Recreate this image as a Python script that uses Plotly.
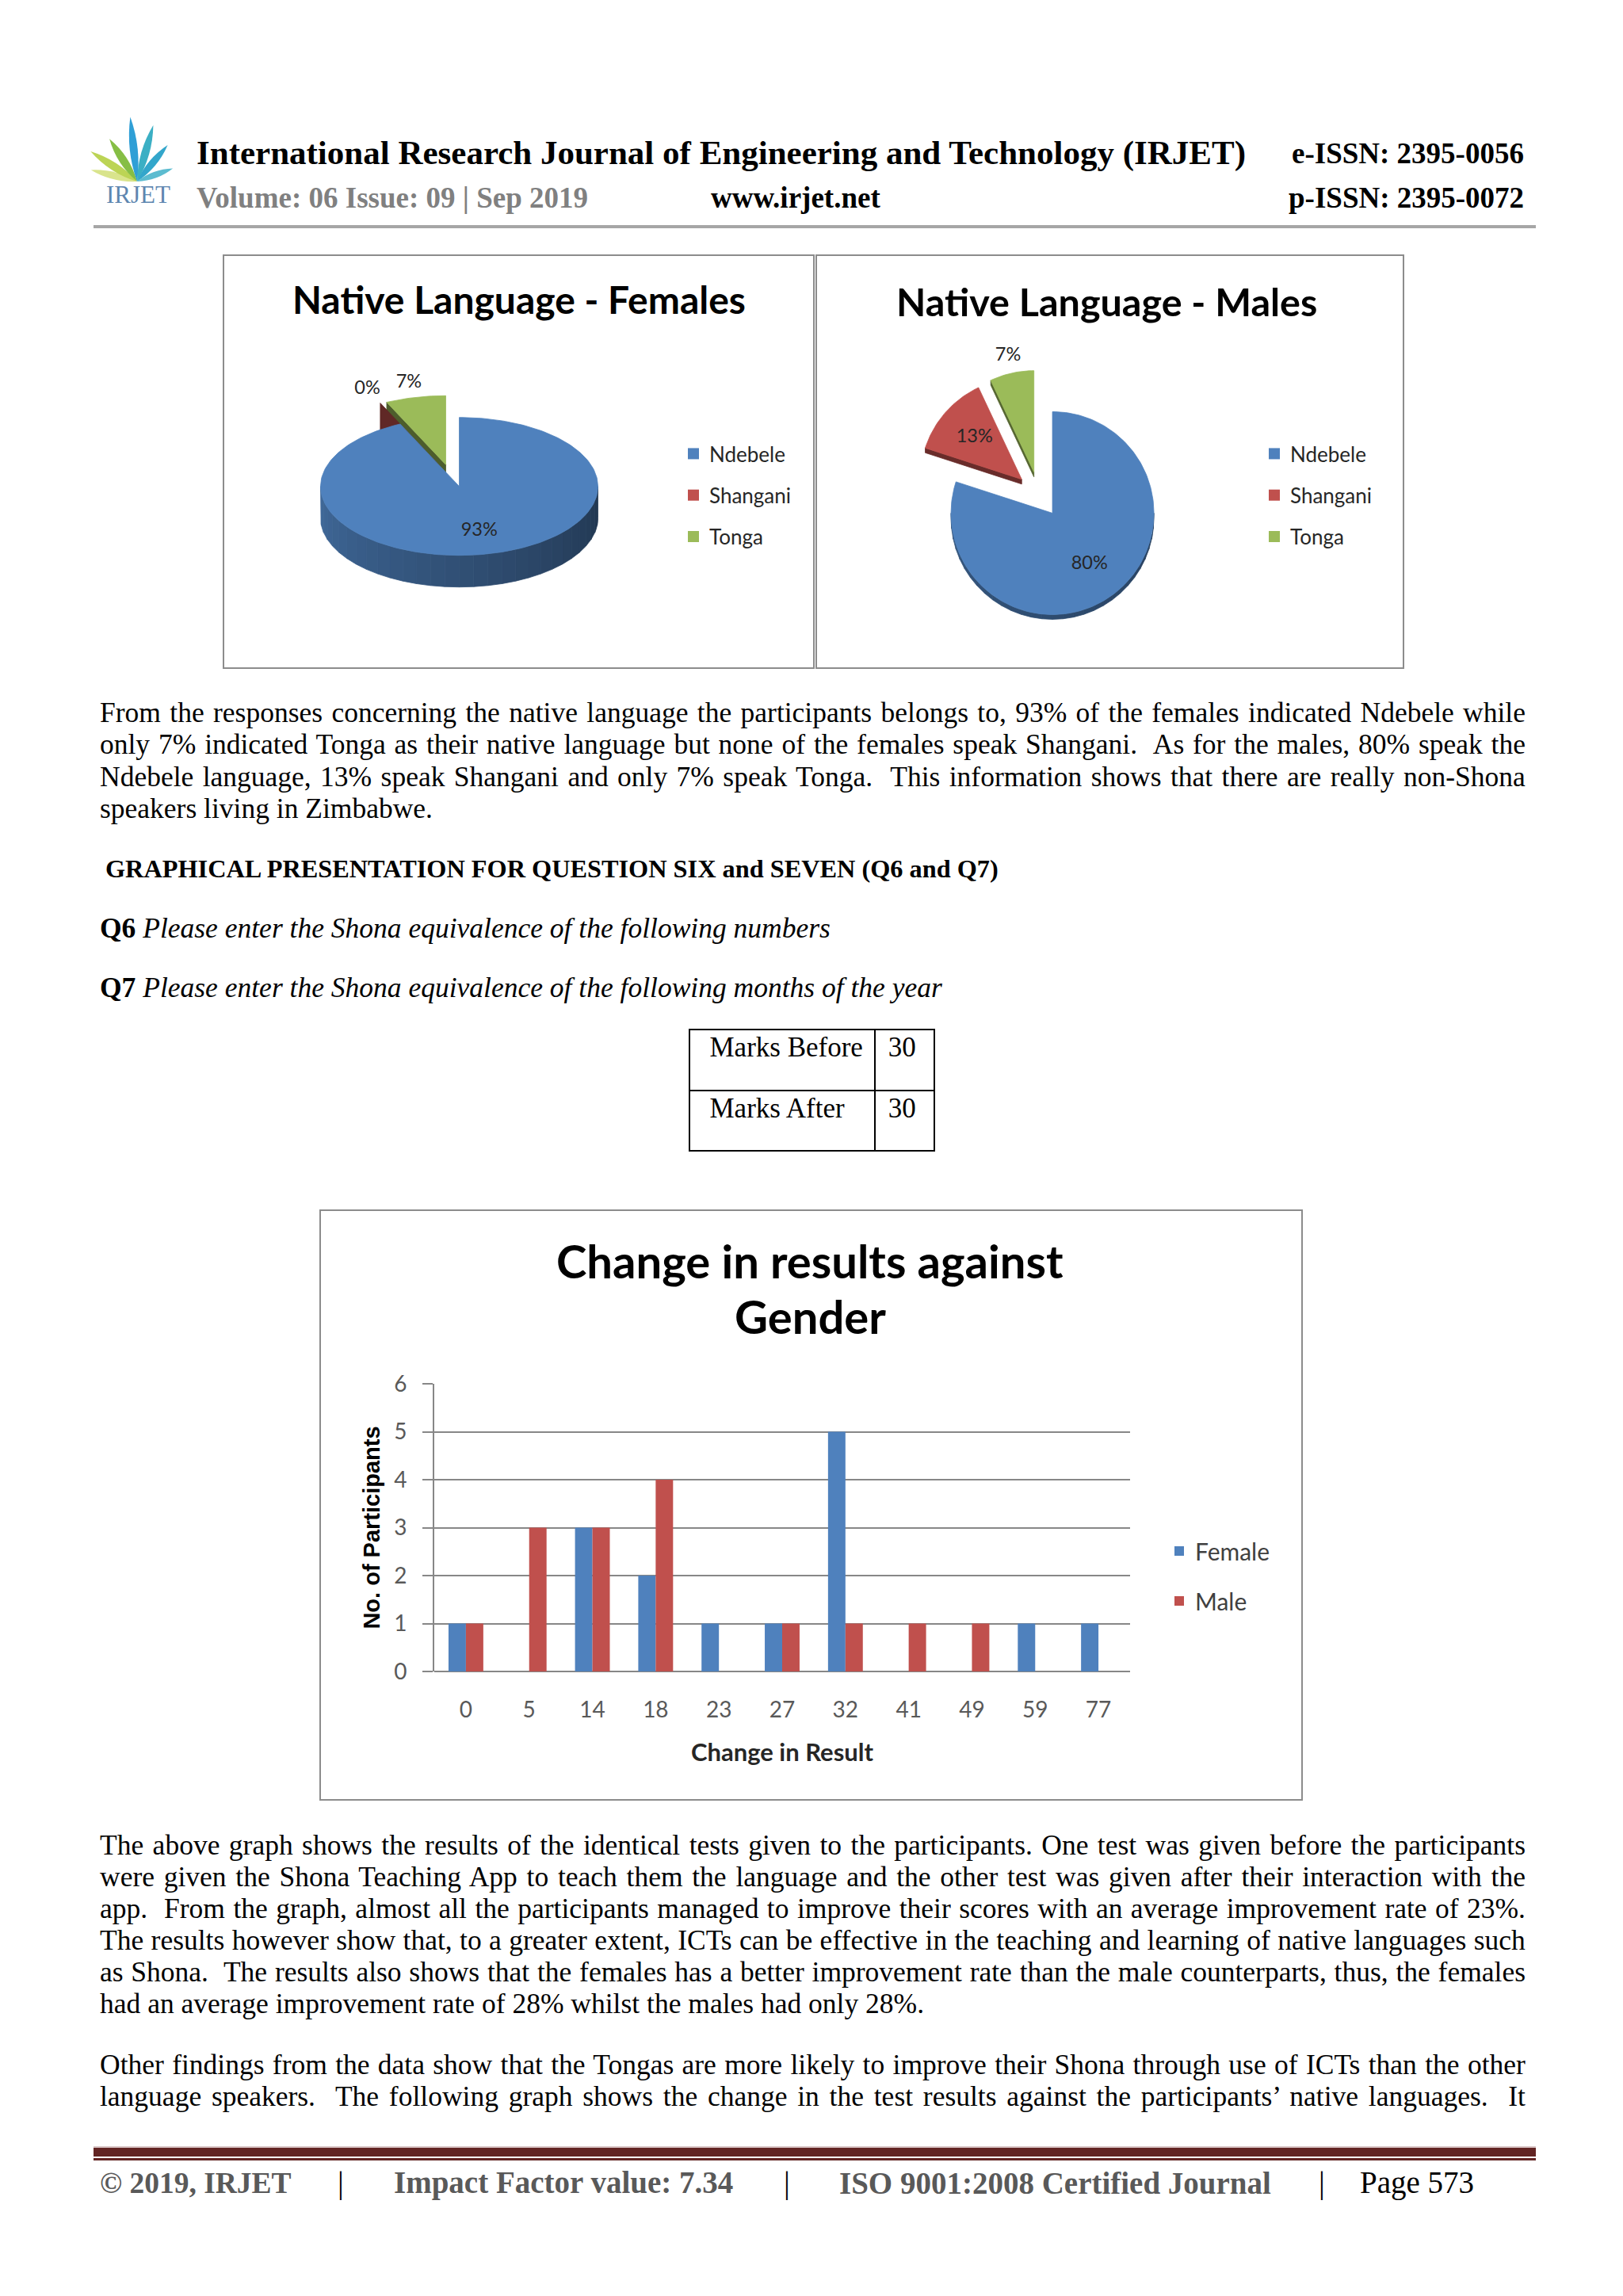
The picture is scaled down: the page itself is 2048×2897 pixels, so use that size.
import json
import math
import plotly.graph_objects as go

W, H = 2048, 2897

# ---------------- data ----------------
pie_labels = ["Ndebele", "Shangani", "Tonga"]
female_share = [93, 0, 7]
male_share = [80, 13, 7]

result_change = ["0", "5", "14", "18", "23", "27", "32", "41", "49", "59", "77"]
female_participants = [1, 0, 3, 2, 1, 1, 5, 0, 0, 1, 1]
male_participants = [1, 3, 3, 4, 0, 1, 1, 1, 1, 0, 0]

table_rows = ["Marks Before", "Marks After"]
table_marks = [30, 30]

para1_lines = [
    "From the responses concerning the native language the participants belongs to, 93% of the females indicated Ndebele while",
    "only 7% indicated Tonga as their native language but none of the females speak Shangani.  As for the males, 80% speak the",
    "Ndebele language, 13% speak Shangani and only 7% speak Tonga.  This information shows that there are really non-Shona",
    "speakers living in Zimbabwe.",
]
para2_lines = [
    "The above graph shows the results of the identical tests given to the participants. One test was given before the participants",
    "were given the Shona Teaching App to teach them the language and the other test was given after their interaction with the",
    "app.  From the graph, almost all the participants managed to improve their scores with an average improvement rate of 23%.",
    "The results however show that, to a greater extent, ICTs can be effective in the teaching and learning of native languages such",
    "as Shona.  The results also shows that the females has a better improvement rate than the male counterparts, thus, the females",
    "had an average improvement rate of 28% whilst the males had only 28%.",
]
para3_lines = [
    "Other findings from the data show that the Tongas are more likely to improve their Shona through use of ICTs than the other",
    "language speakers.  The following graph shows the change in the test results against the participants\u2019 native languages.  It",
]

# ---------------- style ----------------
PIE_COLORS = ["#4F81BD", "#C0504D", "#9BBB59"]
FEMALE_COL = "#4F81BD"
MALE_COL = "#C0504D"
GRID = "#878787"
SERIF = "Liberation Serif"
SANS = "Lato"
BODY = 35.5


def shade(c, f):
    r, g, b = int(c[1:3], 16), int(c[3:5], 16), int(c[5:7], 16)
    return "rgb(%d,%d,%d)" % (min(255, r * f), min(255, g * f), min(255, b * f))


def arc(ox, oy, a, b, t0, t1, dy=0.0, step=1.5):
    n = max(2, int(abs(t1 - t0) / step) + 1)
    pts = []
    for i in range(n + 1):
        t = math.radians(t0 + (t1 - t0) * i / n)
        pts.append((ox + a * math.sin(t), oy - b * math.cos(t) + dy))
    return pts


def poly(pts, color):
    xs = [p[0] for p in pts] + [pts[0][0]]
    ys = [p[1] for p in pts] + [pts[0][1]]
    return go.Scatter(x=xs, y=ys, mode="lines", fill="toself", fillcolor=color,
                      line=dict(color=color, width=0.8), hoverinfo="skip",
                      showlegend=False, xaxis="x", yaxis="y")


def pie_traces(values, colors, cx, cy, a, b, depth, pull, pull_q,
               band=(0.45, 0.8), wall_f=0.5, lab_in=0.62, lab_out=1.22, font=None):
    total = float(sum(values))
    slices = []
    start = 0.0
    for v, col in zip(values, colors):
        sweep = 360.0 * v / total
        mid = start + sweep / 2
        m = math.radians(mid)
        slices.append(dict(v=v, col=col, t0=start, t1=start + sweep, mid=mid,
                           ox=cx + pull * math.sin(m), oy=cy - pull * pull_q * math.cos(m)))
        start += sweep
    out = []
    for s in sorted(slices, key=lambda s: s["oy"]):
        ox, oy, t0, t1, col = s["ox"], s["oy"], s["t0"], s["t1"], s["col"]
        if depth > 0:
            for t, vis in ((t0, math.sin(math.radians(t0)) < -1e-6),
                           (t1, math.sin(math.radians(t1)) > 1e-6)):
                if vis:
                    e = (ox + a * math.sin(math.radians(t)), oy - b * math.cos(math.radians(t)))
                    out.append(poly([(ox, oy), e, (e[0], e[1] + depth), (ox, oy + depth)],
                                    shade(col, wall_f)))
            lo, hi = max(t0, 90.0), min(t1, 270.0)
            if hi > lo:
                nseg = max(1, int((hi - lo) / 6))
                for k in range(nseg):
                    a0 = lo + (hi - lo) * k / nseg
                    a1 = lo + (hi - lo) * (k + 1) / nseg
                    f = band[0] + (band[1] - band[0]) * ((a0 + a1) / 2 - 90) / 180
                    out.append(poly(arc(ox, oy, a, b, a0, a1) + arc(ox, oy, a, b, a1, a0, dy=depth),
                                    shade(col, f)))
        if t1 > t0:
            out.append(poly([(ox, oy)] + arc(ox, oy, a, b, t0, t1), col))
    lx, ly, lt = [], [], []
    for s in slices:
        r = lab_in if s["v"] / total >= 0.1 else lab_out
        m = math.radians(s["mid"])
        lx.append(s["ox"] + r * a * math.sin(m))
        ly.append(s["oy"] - r * b * math.cos(m))
        lt.append("%d%%" % s["v"])
    out.append(go.Scatter(x=lx, y=ly, text=lt, mode="text", textfont=font,
                          hoverinfo="skip", showlegend=False, xaxis="x", yaxis="y"))
    return out


fig = go.Figure()

# ---- pies (page axis in pixel units) ----
lab_font = dict(family=SANS, size=23.5, color="#262626")
for t in pie_traces(female_share, PIE_COLORS, 571, 600, 175, 87, 40, 39, 0.36,
                    band=(0.42, 0.82), wall_f=0.5, lab_in=0.66, font=lab_font):
    fig.add_trace(t)
for t in pie_traces(male_share, PIE_COLORS, 1311, 624, 128, 128, 6, 29, 1.0,
                    band=(0.5, 0.68), wall_f=0.55, lab_out=1.17, font=lab_font):
    fig.add_trace(t)

for i, (lab, col) in enumerate(zip(pie_labels, PIE_COLORS)):
    fig.add_trace(go.Scatter(x=[None], y=[None], mode="markers", name=lab,
                             marker=dict(symbol="square", size=14, color=col),
                             legend="legend2", legendgroup="f%d" % i, xaxis="x", yaxis="y"))
    fig.add_trace(go.Scatter(x=[None], y=[None], mode="markers", name=lab,
                             marker=dict(symbol="square", size=14, color=col),
                             legend="legend3", legendgroup="m%d" % i, xaxis="x", yaxis="y"))

# ---- bar chart ----
fig.add_trace(go.Bar(x=result_change, y=female_participants, name="Female",
                     marker=dict(color=FEMALE_COL, line=dict(width=0)),
                     xaxis="x2", yaxis="y2", legendgroup="gf", legend="legend"))
fig.add_trace(go.Bar(x=result_change, y=male_participants, name="Male",
                     marker=dict(color=MALE_COL, line=dict(width=0)),
                     xaxis="x2", yaxis="y2", legendgroup="gm", legend="legend"))

# ---- table ----
fig.add_trace(go.Table(
    domain=dict(x=[870 / W, 1179 / W], y=[1 - 1459 / H, 1 - 1299 / H]),
    columnwidth=[234, 75],
    header=dict(values=[table_rows[0], str(table_marks[0])], height=77,
                prefix=["\u00a0", "\u00a0"],
                align="left", font=dict(family=SERIF, size=35, color="black"),
                fill_color="white", line=dict(color="black", width=2)),
    cells=dict(values=[[table_rows[1]], [str(table_marks[1])]], height=76,
               prefix=["\u00a0", "\u00a0"],
               align="left", font=dict(family=SERIF, size=35, color="black"),
               fill_color="white", line=dict(color="black", width=2)),
))

# ---- annotations ----
anns = []


def txt(s, x, y, size, family=SERIF, color="black", anchor="left"):
    anns.append(dict(text=s, x=x / W, y=1 - y / H, xref="paper", yref="paper",
                     xanchor=anchor, yanchor="middle", showarrow=False, align="left",
                     font=dict(family=family, size=size, color=color)))


txt("<b>International Research Journal of Engineering and Technology (IRJET)</b>", 246, 193, 43)
txt("<b>e-ISSN: 2395-0056</b>", 1925, 193, 37, anchor="right")
txt("<b>Volume: 06 Issue: 09 | Sep 2019</b>", 246, 249, 37, color="#808080")
txt("<b>www.irjet.net</b>", 895, 249, 37)
txt("<b>p-ISSN: 2395-0072</b>", 1925, 249, 37, anchor="right")
txt("IRJET", 174, 246, 31, color="#5E86B0", anchor="center")

txt("<b>Native Language - Females</b>", 655, 378, 48, family=SANS, anchor="center")
txt("<b>Native Language - Males</b>", 1396, 380, 48.5, family=SANS, anchor="center")

for i, line in enumerate(para1_lines):
    txt(line, 124, 899 + 40.3 * i, BODY)
txt("<b>GRAPHICAL PRESENTATION FOR QUESTION SIX and SEVEN (Q6 and Q7)</b>", 131, 1096, 32.3)
txt("<b>Q6</b> <i>Please enter the Shona equivalence of the following numbers</i>", 124, 1171, BODY)
txt("<b>Q7</b> <i>Please enter the Shona equivalence of the following months of the year</i>", 124, 1246, BODY)

txt("<b>Change in results against</b>", 1022, 1590, 58, family=SANS, anchor="center")
txt("<b>Gender</b>", 1022, 1660, 58, family=SANS, anchor="center")

for i, line in enumerate(para2_lines):
    txt(line, 124, 2328 + 40 * i, BODY)
for i, line in enumerate(para3_lines):
    txt(line, 124, 2605 + 40 * i, BODY)

txt("<b>\u00a9 2019, IRJET</b>", 124, 2754, 37.5, color="#595959")
txt("|", 430, 2754, 39, anchor="center")
txt("<b>Impact Factor value: 7.34</b>", 495, 2754, 39, color="#595959")
txt("|", 993, 2754, 39, anchor="center")
txt("<b>ISO 9001:2008 Certified Journal</b>", 1057, 2754, 39, color="#595959")
txt("|", 1668, 2754, 39, anchor="center")
txt("Page 573", 1714, 2754, 39)

# ---- shapes ----
shapes = []


def rect(x0, y0, x1, y1, line=None, fill=None, width=2):
    shapes.append(dict(type="rect", xref="x", yref="y", x0=x0, y0=y0, x1=x1, y1=y1,
                       line=dict(color=line or "rgba(0,0,0,0)", width=width if line else 0),
                       fillcolor=fill or "rgba(0,0,0,0)", layer="above"))


rect(282, 322, 1027, 843, line="#8C8C8C")
rect(1030, 322, 1771, 843, line="#8C8C8C")
rect(404, 1527, 1643, 2271, line="#8C8C8C")
rect(118, 284, 1938, 288, fill="#A6A6A6")
rect(118, 2708, 1938, 2710, fill="#D8C4C4")
rect(118, 2710, 1938, 2721, fill="#622423")
rect(118, 2723, 1938, 2726, fill="#622423")

# logo leaves (decoration): angle from vertical, length, half-width, colour
leaves = [(-76, 60, 9, "#D9E48C"), (-57, 70, 10, "#BCD455"), (-33, 64, 10, "#86BE45"),
          (-6, 82, 10, "#2F9FD6"), (16, 74, 10, "#3BAFC4"), (40, 60, 9, "#33A6CB"),
          (70, 48, 8, "#5CBCD0")]
bx, by = 173, 229
for ang, L, w, col in leaves:
    r = math.radians(ang)
    tx, ty = bx + L * math.sin(r), by - L * math.cos(r)
    mx, my = (bx + tx) / 2, (by + ty) / 2
    nx, ny = math.cos(r), math.sin(r)
    p = "M %.1f,%.1f Q %.1f,%.1f %.1f,%.1f Q %.1f,%.1f %.1f,%.1f Z" % (
        bx, by, mx + nx * w, my + ny * w, tx, ty, mx - nx * w, my - ny * w, bx, by)
    shapes.append(dict(type="path", xref="x", yref="y", path=p, fillcolor=col,
                       line=dict(width=0), layer="above"))

axis_font = dict(family=SANS, size=28, color="#595959")
fig.update_layout(
    template="none",
    width=W, height=H, margin=dict(l=0, r=0, t=0, b=0, pad=0, autoexpand=False),
    paper_bgcolor="white", plot_bgcolor="rgba(0,0,0,0)",
    barmode="group", bargap=0.45, bargroupgap=0,
    xaxis=dict(domain=[0, 1], range=[0, W], visible=False, fixedrange=True, automargin=False),
    yaxis=dict(domain=[0, 1], range=[H, 0], visible=False, fixedrange=True, automargin=False),
    xaxis2=dict(domain=[548 / W, 1426 / W], anchor="y2", type="category", range=[-0.5, 10.5],
                showline=False, showgrid=False, zeroline=False, ticks="", tickfont=axis_font,
                ticklabelstandoff=29, automargin=False,
                title=dict(text="<b>Change in Result</b>", standoff=28,
                           font=dict(family=SANS, size=31, color="#262626"))),
    yaxis2=dict(domain=[1 - 2109 / H, 1 - 1746 / H], anchor="x2", range=[0, 6], dtick=1,
                showgrid=True, gridcolor=GRID, gridwidth=2, zeroline=True, zerolinecolor=GRID,
                zerolinewidth=2, showline=True, linecolor=GRID, linewidth=2,
                ticks="outside", ticklen=13, tickcolor=GRID, tickwidth=2,
                tickfont=axis_font, ticklabelstandoff=14, automargin=False,
                title=dict(text="<b>No. of Participants</b>", standoff=9,
                           font=dict(family="Liberation Sans", size=29, color="black"))),
    legend=dict(x=1468 / W, y=1 - 1931 / H, xanchor="left", yanchor="top",
                font=dict(family=SANS, size=30, color="#404040"), tracegroupgap=21,
                bgcolor="rgba(0,0,0,0)", borderwidth=0),
    legend2=dict(x=855 / W, y=1 - 549 / H, xanchor="left", yanchor="top",
                 font=dict(family=SANS, size=26, color="#262626"), tracegroupgap=15.5,
                 bgcolor="rgba(0,0,0,0)", borderwidth=0),
    legend3=dict(x=1588 / W, y=1 - 549 / H, xanchor="left", yanchor="top",
                 font=dict(family=SANS, size=26, color="#262626"), tracegroupgap=15.5,
                 bgcolor="rgba(0,0,0,0)", borderwidth=0),
    annotations=anns, shapes=shapes, showlegend=True,
)

# justify paragraph lines (all but the last line of each finished paragraph)
justify = para1_lines[:-1] + para2_lines[:-1] + para3_lines
post = """
document.body.style.margin='0';
var J = %s, target = %d;
document.querySelectorAll('text.annotation-text').forEach(function(t){
  var u = t.getAttribute('data-unformatted');
  if (J.indexOf(u) < 0) return;
  var r0 = t.getBoundingClientRect();
  t.style.wordSpacing = '4px';
  var r1 = t.getBoundingClientRect();
  var per = (r1.right - r0.right) / 4;
  if (per <= 0) { t.style.wordSpacing = '0px'; return; }
  t.style.wordSpacing = ((target - r0.right) / per) + 'px';
});
""" % (json.dumps(justify), 1925)

fig.write_html("out.html", post_script=post, config={"displayModeBar": False})
